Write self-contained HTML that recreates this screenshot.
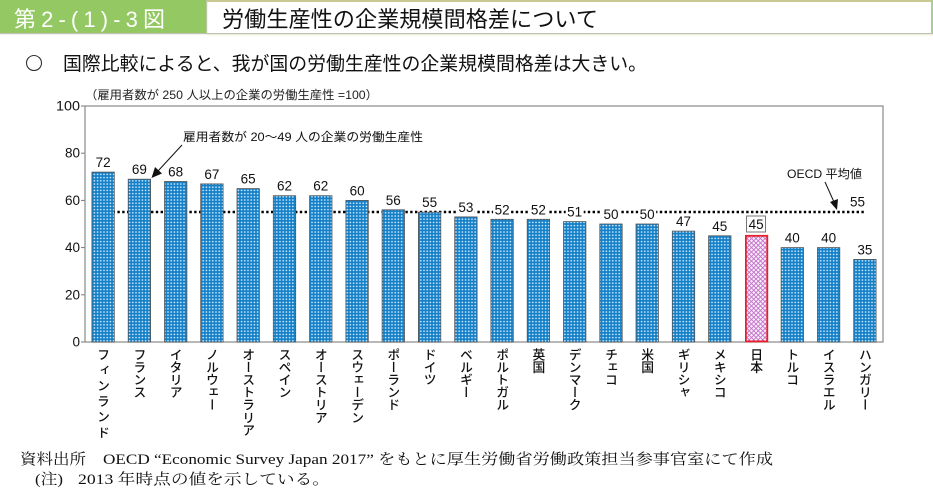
<!DOCTYPE html>
<html><head><meta charset="utf-8">
<style>
html,body{margin:0;padding:0;background:#fff;}
body{width:933px;height:489px;overflow:hidden;position:relative;}
svg{position:absolute;left:0;top:0;}
.xl{position:absolute;top:348px;width:14px;writing-mode:vertical-rl;font-family:"Noto Sans CJK JP","Liberation Sans",sans-serif;font-size:12.8px;font-weight:500;line-height:14px;color:#111;white-space:nowrap;letter-spacing:-0.2px;}
</style></head>
<body>
<svg width="933" height="489" viewBox="0 0 933 489" xmlns="http://www.w3.org/2000/svg">
<defs>
<pattern id="dots" width="3.2" height="3.2" patternUnits="userSpaceOnUse">
<rect width="3.2" height="3.2" fill="#1580c8"/>
<circle cx="1.6" cy="1.6" r="0.85" fill="#d0ecff"/>
</pattern>
<pattern id="hatch" width="4.5" height="4.5" patternUnits="userSpaceOnUse">
<rect width="4.5" height="4.5" fill="#fbeefb"/>
<path d="M0,0 L4.5,4.5 M4.5,0 L0,4.5" stroke="#c070c8" stroke-width="0.9"/>
</pattern>
</defs>

<!-- header -->
<rect x="0" y="0" width="207" height="34" fill="#93c862"/>
<rect x="207" y="0" width="725" height="34" fill="#fff"/>
<rect x="207" y="0" width="726" height="2" fill="#c8c890"/>
<rect x="931" y="0" width="2" height="34" fill="#a8d090"/>
<rect x="0" y="33" width="933" height="1.2" fill="#c0c0b8"/>
<rect x="207" y="34.5" width="726" height="1" fill="#f4f4d4"/>
<rect x="206" y="0" width="1.2" height="34" fill="#b8c8a0"/>
<text x="14" y="27" font-family="Liberation Sans, Noto Sans CJK JP, sans-serif" font-size="22" fill="#fff" textLength="151" lengthAdjust="spacing">第2-(1)-3図</text>
<text x="222" y="27" font-family="Liberation Sans, Noto Sans CJK JP, sans-serif" font-size="22" fill="#111" textLength="376" lengthAdjust="spacingAndGlyphs">労働生産性の企業規模間格差について</text>

<!-- subtitle -->
<circle cx="34" cy="63" r="7.5" fill="none" stroke="#333" stroke-width="1.1"/>
<text x="63" y="70" font-family="Liberation Sans, Noto Sans CJK JP, sans-serif" font-size="19" fill="#111" textLength="584" lengthAdjust="spacingAndGlyphs">国際比較によると、我が国の労働生産性の企業規模間格差は大きい。</text>

<!-- unit -->
<text x="85" y="99" font-family="Liberation Sans, Noto Sans CJK JP, sans-serif" font-size="12" fill="#222" textLength="293" lengthAdjust="spacingAndGlyphs">（雇用者数が 250 人以上の企業の労働生産性 =100）</text>

<!-- y axis ticks/labels -->
<g font-family="Liberation Sans, sans-serif" font-size="13.5" fill="#111" text-anchor="end">
<text x="80" y="110.5" textLength="24" lengthAdjust="spacingAndGlyphs">100</text>
<text x="80" y="157.7">80</text>
<text x="80" y="204.9">60</text>
<text x="80" y="252.1">40</text>
<text x="80" y="299.3">20</text>
<text x="80" y="346.5">0</text>
</g>
<g stroke="#777" stroke-width="1">
<line x1="81" y1="106" x2="85" y2="106"/>
<line x1="81" y1="153.2" x2="85" y2="153.2"/>
<line x1="81" y1="200.4" x2="85" y2="200.4"/>
<line x1="81" y1="247.6" x2="85" y2="247.6"/>
<line x1="81" y1="294.8" x2="85" y2="294.8"/>
<line x1="81" y1="342" x2="85" y2="342"/>
</g>

<!-- frame -->
<rect x="85" y="106" width="798" height="236" fill="none" stroke="#888" stroke-width="1.2"/>

<!-- OECD dotted line -->
<line x1="103" y1="212" x2="865" y2="212" stroke="#000" stroke-width="2.4" stroke-dasharray="2.4,2.4"/>

<!-- bars -->
<g stroke="#555" stroke-width="0.8" fill="url(#dots)">
<rect x="91.9" y="172.1" width="22.4" height="169.9"/>
<rect x="128.2" y="179.2" width="22.4" height="162.8"/>
<rect x="164.5" y="181.5" width="22.4" height="160.5"/>
<rect x="200.7" y="183.9" width="22.4" height="158.1"/>
<rect x="237.0" y="188.6" width="22.4" height="153.4"/>
<rect x="273.3" y="195.7" width="22.4" height="146.3"/>
<rect x="309.6" y="195.7" width="22.4" height="146.3"/>
<rect x="345.9" y="200.4" width="22.4" height="141.6"/>
<rect x="382.1" y="209.8" width="22.4" height="132.2"/>
<rect x="418.4" y="212.2" width="22.4" height="129.8"/>
<rect x="454.7" y="216.9" width="22.4" height="125.1"/>
<rect x="490.9" y="219.3" width="22.4" height="122.7"/>
<rect x="527.2" y="219.3" width="22.4" height="122.7"/>
<rect x="563.5" y="221.6" width="22.4" height="120.4"/>
<rect x="599.8" y="224.0" width="22.4" height="118.0"/>
<rect x="636.0" y="224.0" width="22.4" height="118.0"/>
<rect x="672.3" y="231.1" width="22.4" height="110.9"/>
<rect x="708.6" y="235.8" width="22.4" height="106.2"/>
<rect x="781.1" y="247.6" width="22.4" height="94.4"/>
<rect x="817.4" y="247.6" width="22.4" height="94.4"/>
<rect x="853.7" y="259.4" width="22.4" height="82.6"/>
</g>
<rect x="745.9" y="235.8" width="21.4" height="105.6" fill="url(#hatch)" stroke="#e8202a" stroke-width="1.8"/>

<!-- label backgrounds where overlapping the dotted line -->
<g fill="#fff">
<rect x="456.9" y="202.5" width="18" height="11"/>
<rect x="493.1" y="204.8" width="18" height="11"/>
<rect x="529.4" y="204.8" width="18" height="11"/>
<rect x="565.7" y="207.2" width="18" height="11"/>
<rect x="602.0" y="209.5" width="18" height="11"/>
<rect x="638.2" y="209.5" width="18" height="11"/>
</g>

<!-- value labels -->
<g font-family="Liberation Sans, sans-serif" font-size="13.5" fill="#111" text-anchor="middle">
<text x="103.1" y="167">72</text>
<text x="139.4" y="174.2">69</text>
<text x="175.7" y="176.5">68</text>
<text x="211.9" y="178.9">67</text>
<text x="248.2" y="183.6">65</text>
<text x="284.5" y="190.7">62</text>
<text x="320.8" y="190.7">62</text>
<text x="357.1" y="195.4">60</text>
<text x="393.3" y="204.8">56</text>
<text x="429.6" y="207.2">55</text>
<text x="465.9" y="211.9">53</text>
<text x="502.1" y="214.3">52</text>
<text x="538.4" y="214.3">52</text>
<text x="574.7" y="216.6">51</text>
<text x="611.0" y="219">50</text>
<text x="647.2" y="219">50</text>
<text x="683.5" y="226.1">47</text>
<text x="719.8" y="230.8">45</text>
<text x="756.1" y="229">45</text>
<text x="792.3" y="242.6">40</text>
<text x="828.6" y="242.6">40</text>
<text x="864.9" y="254.4">35</text>
</g>
<rect x="746.5" y="216" width="19" height="16" fill="none" stroke="#777" stroke-width="1"/>

<!-- annotation 1 -->
<text x="183" y="141" font-family="Liberation Sans, Noto Sans CJK JP, sans-serif" font-size="12" fill="#111" textLength="240" lengthAdjust="spacingAndGlyphs">雇用者数が 20～49 人の企業の労働生産性</text>
<line x1="182" y1="145" x2="158" y2="171" stroke="#111" stroke-width="1"/>
<polygon points="151.5,178 155,167 162,173.5" fill="#111"/>

<!-- annotation OECD -->
<text x="787" y="178" font-family="Liberation Sans, Noto Sans CJK JP, sans-serif" font-size="12" fill="#111" textLength="75" lengthAdjust="spacingAndGlyphs">OECD 平均値</text>
<line x1="825" y1="182" x2="834" y2="202" stroke="#111" stroke-width="1"/>
<polygon points="837,210 830,202 838,199" fill="#111"/>
<text x="850" y="206.5" font-family="Liberation Sans, sans-serif" font-size="13.5" fill="#111">55</text>

<!-- footer -->
<g font-family="Liberation Serif, Noto Serif CJK SC, serif" font-size="15" fill="#111">
<text x="20" y="464" textLength="66" lengthAdjust="spacingAndGlyphs">資料出所</text>
<text x="103" y="464" textLength="670" lengthAdjust="spacingAndGlyphs">OECD “Economic Survey Japan 2017” をもとに厚生労働省労働政策担当参事官室にて作成</text>
<text x="35" y="484" textLength="28" lengthAdjust="spacingAndGlyphs">(注)</text>
<text x="78" y="484" textLength="252" lengthAdjust="spacingAndGlyphs">2013 年時点の値を示している。</text>
</g>
</svg>

<div class="xl" style="left:96px;letter-spacing:2.8px;">フィンランド</div>
<div class="xl" style="left:132.4px;">フランス</div>
<div class="xl" style="left:168.7px;">イタリア</div>
<div class="xl" style="left:204.9px;">ノルウェー</div>
<div class="xl" style="left:241.2px;">オーストラリア</div>
<div class="xl" style="left:277.5px;">スペイン</div>
<div class="xl" style="left:313.8px;">オーストリア</div>
<div class="xl" style="left:350.1px;">スウェーデン</div>
<div class="xl" style="left:386.3px;">ポーランド</div>
<div class="xl" style="left:422.6px;">ドイツ</div>
<div class="xl" style="left:458.9px;">ベルギー</div>
<div class="xl" style="left:495.1px;">ポルトガル</div>
<div class="xl" style="left:531.4px;">英国</div>
<div class="xl" style="left:567.7px;">デンマーク</div>
<div class="xl" style="left:604px;">チェコ</div>
<div class="xl" style="left:640.2px;">米国</div>
<div class="xl" style="left:676.5px;">ギリシャ</div>
<div class="xl" style="left:712.8px;">メキシコ</div>
<div class="xl" style="left:749.1px;">日本</div>
<div class="xl" style="left:785.3px;">トルコ</div>
<div class="xl" style="left:821.6px;">イスラエル</div>
<div class="xl" style="left:857.9px;">ハンガリー</div>
</body></html>
